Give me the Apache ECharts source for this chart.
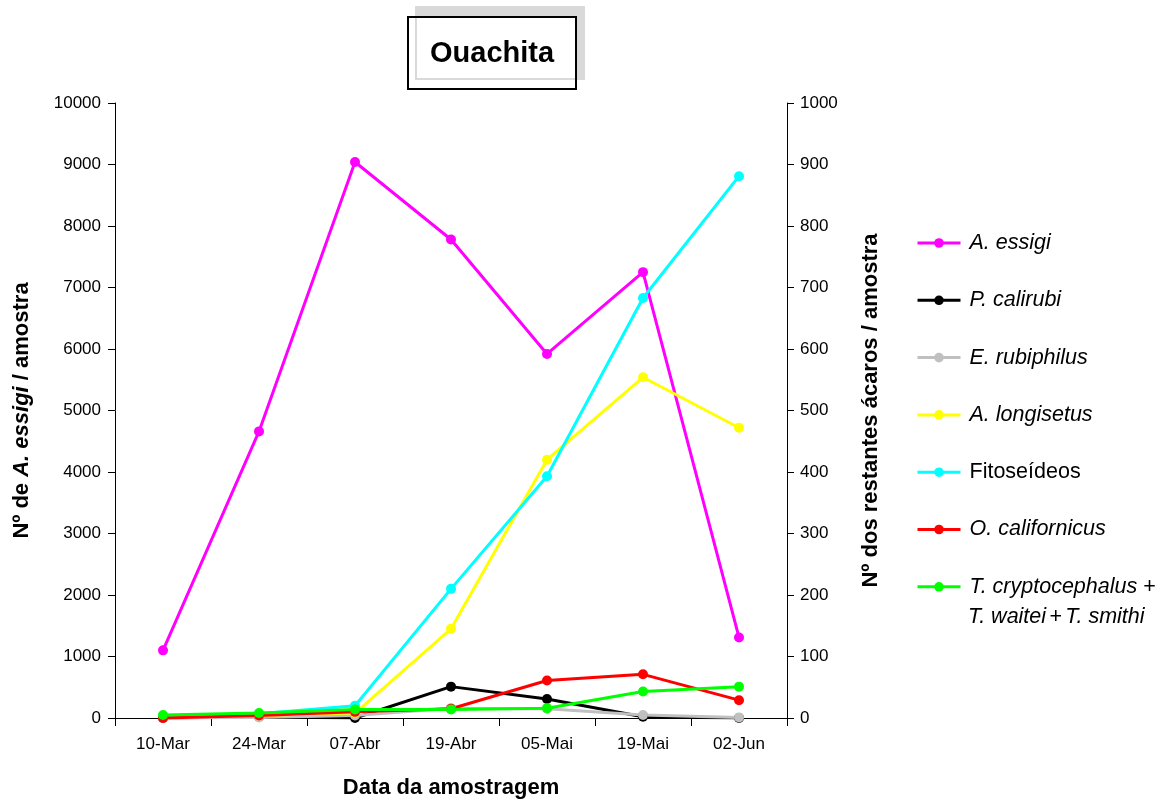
<!DOCTYPE html>
<html><head><meta charset="utf-8">
<script src="https://cdn.jsdelivr.net/npm/echarts@6/dist/echarts.min.js"></script>
<style>html,body{margin:0;padding:0;background:#fff}#c{width:1174px;height:804px}</style>
</head><body><div id="c"></div>
<script>
const categories = ['10-Mar','24-Mar','07-Abr','19-Abr','05-Mai','19-Mai','02-Jun'];
const leftTicks = [0,1000,2000,3000,4000,5000,6000,7000,8000,9000,10000];
const rightTicks = [0,100,200,300,400,500,600,700,800,900,1000];
const aEssigi = [1100, 4660, 9040, 7780, 5920, 7250, 1310];
const pCalirubi = [0, 2, 0, 51, 31, 2, 0];
const eRubiphilus = [0, 1, 4, 16, 15, 5, 1];
const aLongisetus = [2, 4, 8, 145, 420, 554, 472];
const fitoseideos = [3, 7, 20, 210, 393, 683, 881];
const oCalifornicus = [0, 4, 10, 15, 61, 71, 29];
const tGroup = [5, 8, 14, 14, 16, 43, 51];

const seriesDefs = [
  {name:'A. essigi', data:aEssigi, color:'#FF00FF', axis:0, label:'{i|A. essigi}'},
  {name:'P. calirubi', data:pCalirubi, color:'#000000', axis:1, label:'{i|P. calirubi}'},
  {name:'E. rubiphilus', data:eRubiphilus, color:'#C0C0C0', axis:1, label:'{i|E. rubiphilus}'},
  {name:'A. longisetus', data:aLongisetus, color:'#FFFF00', axis:1, label:'{i|A. longisetus}'},
  {name:'Fitoseídeos', data:fitoseideos, color:'#00FFFF', axis:1, label:'{n|Fitoseídeos}'},
  {name:'O. californicus', data:oCalifornicus, color:'#FF0000', axis:1, label:'{i|O. californicus}'},
  {name:'T. cryptocephalus + T. waitei + T. smithi', data:tGroup, color:'#00FF00', axis:1, label:'{i|T. cryptocephalus} {n|+}'}
];
const FONT = '"Liberation Sans", Arial, sans-serif';
const LF = 21.5;
const labelMap = {};
seriesDefs.forEach(s => labelMap[s.name] = s.label);

const chart = echarts.init(document.getElementById('c'), null, {renderer:'canvas'});
chart.setOption({
  backgroundColor:'#fff',
  animation:false,
  textStyle:{fontFamily:FONT},
  title:{
    text:'Ouachita', left:408, top:17,
    padding:[22,22,21,22],
    borderColor:'#000', borderWidth:2, backgroundColor:'#fff',
    shadowColor:'#d9d9d9', shadowOffsetX:8, shadowOffsetY:-10, shadowBlur:0,
    textStyle:{fontFamily:FONT, fontSize:29, fontWeight:'bold', color:'#000'}
  },
  grid:{left:115, right:387, top:103, bottom:84, containLabel:false},
  legend:{
    orient:'vertical', left:916, top:232, padding:0,
    itemWidth:43, itemHeight:12, itemGap:35.3,
    data: seriesDefs.map(s => s.name),
    formatter: n => labelMap[n],
    lineStyle:{width:3},
    textStyle:{fontFamily:FONT, fontSize:LF, color:'#000', padding:[0,0,0,4],
      rich:{ i:{fontFamily:FONT, fontSize:LF, fontStyle:'italic', color:'#000'},
             n:{fontFamily:FONT, fontSize:LF, color:'#000'} }}
  },
  graphic:[{
    type:'text', left:968, top:606,
    style:{ text:'{i|T. waitei} {n|+} {i|T. smithi}', fill:'#000',
      rich:{ i:{fontFamily:FONT, fontSize:LF, fontStyle:'italic', fill:'#000'},
             n:{fontFamily:FONT, fontSize:LF, fill:'#000'} } }
  }],
  xAxis:{
    type:'category', data:categories, boundaryGap:true,
    name:'Data da amostragem', nameLocation:'middle', nameGap:59,
    nameTextStyle:{fontFamily:FONT, fontSize:22, fontWeight:'bold', color:'#000'},
    axisLine:{lineStyle:{color:'#000', width:1}},
    axisTick:{show:true, length:8, alignWithLabel:false, lineStyle:{color:'#000'}},
    axisLabel:{fontFamily:FONT, fontSize:17, color:'#000', margin:18}
  },
  yAxis:[{
    type:'value', min:leftTicks[0], max:leftTicks[leftTicks.length-1], interval:1000, position:'left',
    name:'{b|Nº de }{bi|A. essigi}{b| / amostra}', nameLocation:'middle', nameGap:82, nameRotate:90,
    nameTextStyle:{ rich:{ b:{fontFamily:FONT, fontSize:22, fontWeight:'bold', color:'#000'},
                           bi:{fontFamily:FONT, fontSize:22, fontWeight:'bold', fontStyle:'italic', color:'#000'} } },
    axisLine:{show:true, lineStyle:{color:'#000', width:1}},
    axisTick:{show:true, length:7, inside:false, lineStyle:{color:'#000'}},
    axisLabel:{fontFamily:FONT, fontSize:17, color:'#000', margin:14, formatter: v => String(v)},
    splitLine:{show:false}
  },{
    type:'value', min:rightTicks[0], max:rightTicks[rightTicks.length-1], interval:100, position:'right',
    name:'Nº dos restantes ácaros / amostra', nameLocation:'middle', nameGap:73, nameRotate:90,
    nameTextStyle:{fontFamily:FONT, fontSize:22, fontWeight:'bold', color:'#000'},
    axisLine:{show:true, lineStyle:{color:'#000', width:1}},
    axisTick:{show:true, length:7, inside:false, lineStyle:{color:'#000'}},
    axisLabel:{fontFamily:FONT, fontSize:17, color:'#000', margin:13, formatter: v => String(v)},
    splitLine:{show:false}
  }],
  series: seriesDefs.map(s => ({
    name:s.name, type:'line', yAxisIndex:s.axis, data:s.data,
    symbol:'circle', symbolSize:10, showSymbol:true,
    lineStyle:{color:s.color, width:3},
    itemStyle:{color:s.color, borderWidth:0},
    emphasis:{disabled:true}
  }))
});
</script></body></html>
